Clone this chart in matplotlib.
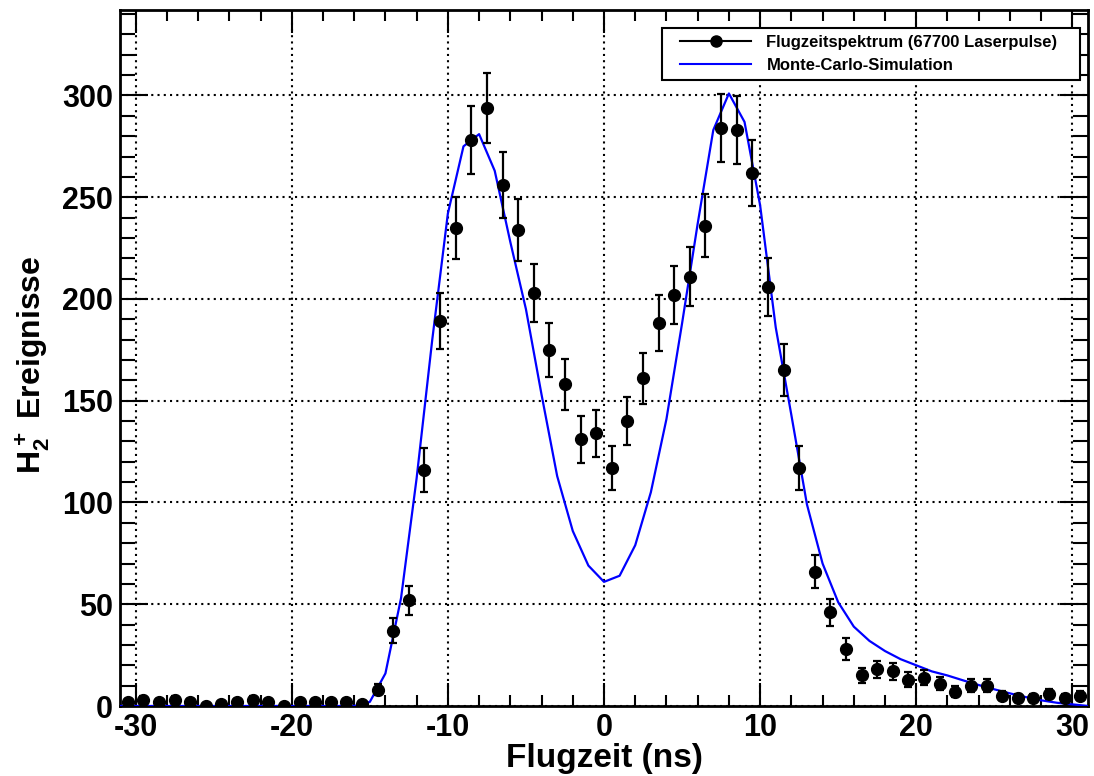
import numpy as np
import matplotlib
matplotlib.use("Agg")
import matplotlib.pyplot as plt
from matplotlib.lines import Line2D
from matplotlib.legend_handler import HandlerLine2D
from matplotlib.ticker import MultipleLocator

plt.rcParams['font.family'] = ['Liberation Sans', 'DejaVu Sans']
plt.rcParams['font.weight'] = 'bold'
plt.rcParams['axes.unicode_minus'] = False
plt.rcParams['mathtext.fontset'] = 'custom'
plt.rcParams['mathtext.rm'] = 'Liberation Sans:bold'
plt.rcParams['mathtext.bf'] = 'Liberation Sans:bold'
plt.rcParams['mathtext.default'] = 'bf'

# --- data ---
tof_centers = np.arange(-30.5, 31.0, 1.0)
counts = [2, 3, 2, 3, 2, 0, 1, 2, 3, 2, 0, 2, 2, 2, 2, 1, 8, 37, 52, 116,
          189, 235, 278, 294, 256, 234, 203, 175, 158, 131, 134, 117, 140, 161,
          188, 202, 211, 236, 284, 283, 262, 206, 165, 117, 66, 46, 28, 15, 18,
          17, 13, 14, 11, 7, 10, 10, 5, 4, 4, 6, 4, 5]

mc_x = np.arange(-31, 32, 1)
mc_y = [0] * 16 + [2, 16, 53, 112, 180, 242, 275, 281, 263, 228, 195, 153, 113,
                   86, 69, 61, 64, 79, 105, 141, 188, 237, 283, 301, 287, 246, 186,
                   143, 99, 70, 51, 39, 32, 27, 23, 20, 17, 15, 12.6, 10.3, 8.2,
                   6.2, 4.4, 2.8, 1.6, 0.8, 0]

label_data = "Flugzeitspektrum (67700 Laserpulse)"
label_mc = "Monte-Carlo-Simulation"
xlabel = "Flugzeit (ns)"
ylabel = r"$\mathbf{H_2^+}$ Ereignisse"

counts = np.array(counts, dtype=float)
errs = np.sqrt(counts)

fig = plt.figure(figsize=(10.94, 7.76), dpi=100)
ax = fig.add_axes([120/1094, 1-706/776, (1088-120)/1094, (706-10)/776])

ax.plot(mc_x, mc_y, color='#0000ff', lw=1.6, zorder=3)
mask = counts > 0
ax.errorbar(tof_centers[mask], counts[mask], yerr=errs[mask], fmt='none',
            ecolor='black', elinewidth=1.6, capsize=3.2, capthick=1.6, zorder=4)
ax.plot(tof_centers, counts, 'o', color='black', ms=8.5, zorder=5)

ax.set_xlim(-31, 31)
ax.set_ylim(0, 342)

ax.xaxis.set_major_locator(MultipleLocator(10))
ax.xaxis.set_minor_locator(MultipleLocator(2))
ax.yaxis.set_major_locator(MultipleLocator(50))
ax.yaxis.set_minor_locator(MultipleLocator(10))
ax.tick_params(which='both', direction='in', top=True, right=True, width=1.5,
               labelsize=22)
ax.tick_params(axis='x', which='major', length=16.5, pad=5)
ax.tick_params(axis='x', which='minor', length=8)
ax.tick_params(axis='y', which='major', length=20, pad=5)
ax.tick_params(axis='y', which='minor', length=10.5)
for lab in ax.get_xticklabels() + ax.get_yticklabels():
    lab.set_fontweight('bold')
for s in ax.spines.values():
    s.set_linewidth(2)

ax.grid(True, which='major', color='black', linestyle=(0, (1, 2)), lw=1.5)

ax.set_xlabel(xlabel, fontsize=24, fontweight='bold', va='bottom')
ax.xaxis.set_label_coords(0.5, -0.0975)
ax.set_ylabel(ylabel, fontsize=23, fontweight='bold')
ax.yaxis.set_label_coords(-0.07, 0.49)

h1 = Line2D([], [], color='black', marker='o', ms=8, lw=1.5)
h2 = Line2D([], [], color='#0000ff', lw=1.5)
hmap = {h1: HandlerLine2D(xpad=0.66), h2: HandlerLine2D(xpad=0.66)}
leg = ax.legend([h1, h2], [label_data, label_mc], loc='upper left',
                bbox_to_anchor=(0.5599, 0.899, 0.4318, 0.075), mode='expand',
                borderaxespad=0, fancybox=False, framealpha=1,
                edgecolor='black', handlelength=4.97, borderpad=0.4,
                labelspacing=0.5, handletextpad=0.9, handler_map=hmap,
                prop={'weight': 'bold', 'size': 12})
leg.get_frame().set_linewidth(1.5)
leg.set_zorder(10)

fig.savefig('out.png', dpi=100)
